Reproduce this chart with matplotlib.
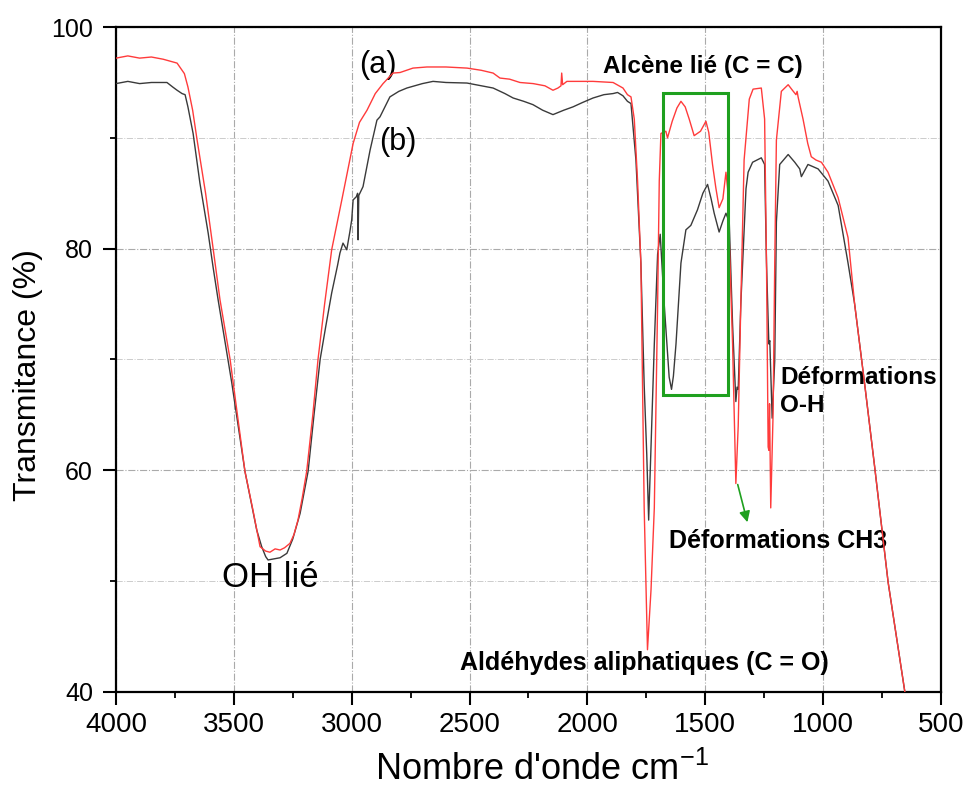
import numpy as np
import matplotlib
matplotlib.use("Agg")
import matplotlib.pyplot as plt
from matplotlib.patches import Rectangle
from matplotlib.ticker import MultipleLocator

plt.rcParams['font.family'] = ['Liberation Sans', 'DejaVu Sans']
plt.rcParams['mathtext.fontset'] = 'custom'
plt.rcParams['mathtext.rm'] = 'Liberation Sans'
plt.rcParams['mathtext.it'] = 'Liberation Sans'

# spectrum (a) - red
wn_a = [4000, 3950, 3900, 3850, 3800, 3741, 3710, 3695, 3675, 3656, 3620, 3588, 3559, 3516,
        3485, 3453, 3420, 3389, 3365, 3347, 3325, 3304, 3285, 3262, 3245, 3228, 3210, 3191,
        3165, 3143, 3115, 3085, 3042, 2994, 2967, 2935, 2900, 2867, 2825, 2795, 2740, 2681,
        2600, 2511, 2450, 2400, 2371, 2330, 2286, 2230, 2180, 2146, 2125, 2112, 2109, 2105,
        2087, 2000, 1976, 1891, 1849, 1830, 1815, 1801, 1787, 1773, 1766, 1759, 1745, 1730,
        1716, 1702, 1695, 1688, 1667, 1660, 1640, 1620, 1603, 1585, 1568, 1547, 1520, 1497,
        1485, 1469, 1455, 1441, 1425, 1412, 1405, 1384, 1370, 1360, 1349, 1335, 1313, 1297,
        1262, 1248, 1240, 1233, 1230, 1227, 1222, 1212, 1205, 1198, 1177, 1148, 1130, 1115,
        1110, 1106, 1085, 1065, 1050, 1030, 1007, 979, 936, 894, 866, 823, 781, 724, 653]
t_a = [97.2, 97.4, 97.2, 97.3, 97.1, 96.75, 95.8, 94.6, 92.5, 89.8, 85.0, 80.0, 75.4, 70.0,
       65.0, 59.9, 56.5, 53.1, 52.7, 52.6, 52.9, 52.8, 53.0, 53.4, 54.2, 55.5, 57.5, 59.9,
       65.0, 70.0, 75.0, 79.9, 84.4, 89.5, 91.4, 92.5, 94.0, 94.9, 95.85, 95.9, 96.3, 96.4,
       96.4, 96.3, 96.1, 95.85, 95.4, 95.3, 95.0, 94.9, 94.7, 94.3, 94.5, 94.7, 95.85, 94.8,
       95.1, 95.1, 95.1, 95.0, 94.5, 93.9, 93.7, 91.7, 86.1, 78.7, 67.7, 56.6, 43.8, 49.2,
       56.6, 75.0, 86.1, 90.4, 90.6, 90.0, 91.5, 92.7, 93.3, 92.8, 91.7, 90.2, 90.6, 91.5,
       90.5, 87.6, 85.5, 83.7, 84.5, 86.9, 85.4, 71.4, 58.8, 64.0, 75.0, 88.0, 93.5, 94.4,
       94.5, 91.7, 78.7, 62.1, 61.8, 66.0, 56.6, 65.1, 78.7, 89.8, 94.2, 94.8, 94.3, 93.9,
       94.2, 93.7, 91.7, 89.5, 88.3, 88.0, 87.8, 86.9, 84.6, 81.0, 75.0, 67.7, 60.3, 49.9, 40.0]

# spectrum (b) - dark grey
wn_b = [4000, 3950, 3900, 3850, 3784, 3760, 3741, 3720, 3707, 3695, 3673, 3644, 3609, 3588,
        3567, 3509, 3453, 3403, 3382, 3365, 3355, 3330, 3304, 3275, 3250, 3219, 3185, 3160,
        3134, 3110, 3085, 3060, 3050, 3037, 3021, 3008, 3000, 2994, 2980, 2975, 2973, 2970,
        2952, 2922, 2893, 2880, 2838, 2800, 2766, 2700, 2655, 2600, 2511, 2450, 2400, 2350,
        2315, 2270, 2231, 2190, 2146, 2100, 2061, 2020, 1976, 1930, 1891, 1872, 1849, 1830,
        1815, 1794, 1773, 1759, 1748, 1740, 1731, 1716, 1702, 1691, 1674, 1653, 1643, 1635,
        1624, 1603, 1582, 1561, 1533, 1510, 1490, 1475, 1462, 1441, 1425, 1412, 1398, 1384,
        1370, 1365, 1360, 1349, 1327, 1318, 1299, 1262, 1248, 1240, 1230, 1226, 1216, 1205,
        1198, 1184, 1148, 1120, 1099, 1092, 1064, 1021, 979, 936, 894, 866, 823, 781, 724, 653]
t_b = [94.9, 95.1, 94.9, 95.0, 95.0, 94.6, 94.3, 94.0, 93.9, 92.8, 90.4, 85.9, 81.4, 78.3,
       75.4, 67.9, 59.9, 54.6, 53.1, 52.2, 51.9, 52.0, 52.1, 52.5, 53.8, 56.1, 59.9, 65.0,
       70.0, 73.0, 76.0, 78.5, 79.6, 80.5, 79.9, 81.5, 82.6, 84.4, 84.7, 85.0, 80.8, 84.8,
       85.6, 88.9, 91.6, 91.9, 93.7, 94.2, 94.5, 94.9, 95.1, 95.0, 94.95, 94.7, 94.5, 94.0,
       93.6, 93.3, 93.0, 92.5, 92.1, 92.5, 92.8, 93.2, 93.6, 93.9, 94.0, 94.1, 93.8, 93.3,
       93.1, 88.0, 78.7, 67.7, 61.4, 55.5, 61.4, 71.4, 79.5, 81.3, 75.0, 68.4, 67.3, 68.5,
       71.4, 78.7, 81.7, 82.1, 83.5, 85.0, 85.8, 84.5, 83.2, 81.5, 82.5, 83.2, 82.4, 73.2,
       66.2, 67.5, 67.3, 75.0, 85.4, 86.9, 87.8, 88.2, 87.6, 78.7, 71.4, 71.7, 64.7, 69.9,
       82.4, 87.6, 88.5, 87.8, 87.2, 86.5, 87.6, 87.2, 86.1, 83.9, 78.7, 75.0, 67.7, 60.3, 49.9, 40.0]

fig = plt.figure(figsize=(9.67, 7.97), dpi=100)
ax = fig.add_axes([0.12, 0.132, 0.853, 0.834])

ax.plot(wn_b, t_b, color='#3a3a3a', lw=1.0, zorder=3)
ax.plot(wn_a, t_a, color='#ff3b3b', lw=1.0, zorder=4)

ax.set_xlim(4000, 500)
ax.set_ylim(40, 100)
ax.xaxis.set_major_locator(MultipleLocator(500))
ax.xaxis.set_minor_locator(MultipleLocator(250))
ax.yaxis.set_major_locator(MultipleLocator(20))
ax.yaxis.set_minor_locator(MultipleLocator(10))

ax.grid(which='major', axis='both', color='#aaaaaa', ls='-.', lw=0.8)
ax.grid(which='minor', axis='y', color='#cccccc', ls='-.', lw=0.7)

for s in ax.spines.values():
    s.set_linewidth(1.6)
ax.tick_params(which='major', direction='out', length=9.5, width=1.5)
ax.tick_params(which='minor', direction='out', length=4.5, width=1.3)
ax.tick_params(axis='x', which='major', labelsize=20, pad=5)
ax.tick_params(axis='y', which='major', labelsize=18, pad=7)

ax.set_xlabel("Nombre d'onde cm$^{-1}$", fontsize=26, labelpad=10)
ax.set_ylabel("Transmitance (%)", fontsize=23, labelpad=6)
ax.xaxis.label.set_x(0.516)
ax.yaxis.label.set_y(0.477)

# annotations
ax.text(2888, 96.6, "(a)", fontsize=22, ha='center', va='center')
ax.text(2804, 89.6, "(b)", fontsize=22, ha='center', va='center')
ax.text(3347, 50.3, "OH lié", fontsize=25, ha='center', va='center')
ax.text(1510, 96.4, "Alcène lié (C = C)", fontsize=17.5, fontweight='bold', ha='center', va='center')
ax.text(1183, 67.1, "Déformations\nO-H", fontsize=17.5, fontweight='bold', ha='left', va='center',
        linespacing=1.25)
ax.text(1191, 53.6, "Déformations CH3", fontsize=18, fontweight='bold', ha='center', va='center')
ax.text(1760, 42.6, "Aldéhydes aliphatiques (C = O)", fontsize=18, fontweight='bold',
        ha='center', va='center')

ax.add_patch(Rectangle((1679, 66.8), 1403.5 - 1679, 94.04 - 66.8, fill=False,
                       edgecolor='#1fa01f', lw=2.2, zorder=5))
ax.annotate("", xy=(1318, 55.06), xytext=(1365, 58.95),
            arrowprops=dict(arrowstyle='-|>', color='#1fa01f', lw=1.2, mutation_scale=16))

fig.savefig("out.png", dpi=100)
